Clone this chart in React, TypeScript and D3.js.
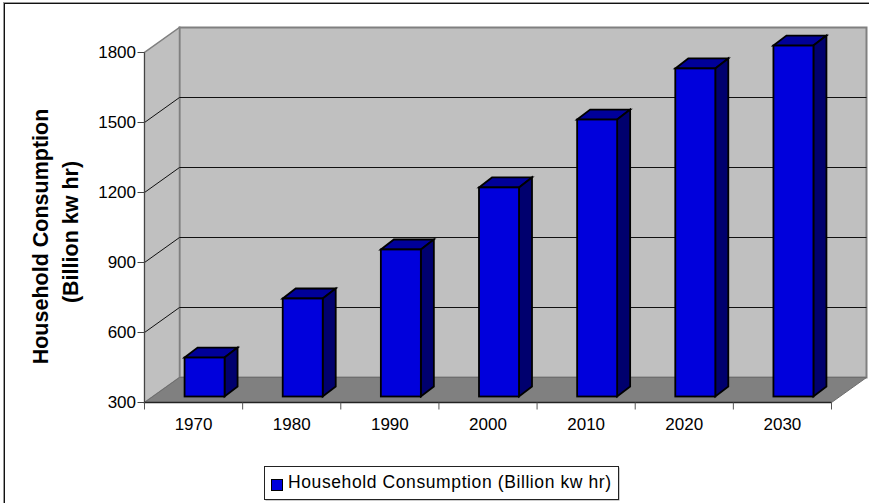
import React from "react";
import * as d3 from "d3";

const categories = ["1970", "1980", "1990", "2000", "2010", "2020", "2030"];
const values = [467, 720, 930, 1196, 1487, 1706, 1804];
const yTicks = [300, 600, 900, 1200, 1500, 1800];
const seriesName = "Household Consumption (Billion kw hr)";

const W = 869, H = 503;
const FRONT_L = 144.5, FRONT_R = 831.5, FLOOR_Y = 402.5, TOP_Y = 52.5;
const DX = 35, DY = 25;
const BAR_W = 40, BAR_DX = 13, BAR_DY = 10, BAR_OX = 11, BAR_OY = 6;
const FONT = "Liberation Sans, Arial, sans-serif";

export default function App() {
  const x = d3.scaleBand<string>().domain(categories).range([FRONT_L, FRONT_R]);
  const y = d3.scaleLinear().domain([300, 1800]).range([FLOOR_Y, TOP_Y]);
  const poly = (pts: number[][]) => pts.map((p) => p.join(",")).join(" ");
  const tickXs = [...categories.map((c) => x(c)!), FRONT_R];
  return (
    <svg width={W} height={H} viewBox={`0 0 ${W} ${H}`} style={{ position: "absolute", left: 0, top: 0, background: "#fff" }} fontFamily={FONT}>
      <rect x={3.5} y={2.5} width={W + 10} height={H + 10} fill="none" stroke="#999" strokeWidth={1} />
      <rect x={4.5} y={3.5} width={W + 10} height={H + 10} fill="#fff" stroke="#111" strokeWidth={1} />
      {/* back wall */}
      <rect x={FRONT_L + DX} y={TOP_Y - DY} width={FRONT_R - FRONT_L} height={FLOOR_Y - TOP_Y} fill="#c0c0c0" stroke="#808080" strokeWidth={2} />
      {/* side wall */}
      <polygon points={poly([[FRONT_L, FLOOR_Y], [FRONT_L, TOP_Y], [FRONT_L + DX, TOP_Y - DY], [FRONT_L + DX, FLOOR_Y - DY]])} fill="#c0c0c0" stroke="#808080" strokeWidth={1.5} />
      {/* floor */}
      <polygon points={poly([[FRONT_L, FLOOR_Y], [FRONT_L + DX, FLOOR_Y - DY], [FRONT_R + DX, FLOOR_Y - DY], [FRONT_R, FLOOR_Y]])} fill="#808080" stroke="#6e6e6e" strokeWidth={1} />
      {/* gridlines */}
      {yTicks.slice(1, -1).map((t) => (
        <polyline key={t} points={poly([[FRONT_L, y(t)], [FRONT_L + DX, y(t) - DY], [FRONT_R + DX, y(t) - DY]])} fill="none" stroke="#111" strokeWidth={1} />
      ))}
      {/* bars */}
      {categories.map((c, i) => {
        const l = x(c)! + (x.bandwidth() - BAR_W) / 2 + BAR_OX;
        const r = l + BAR_W;
        const b = FLOOR_Y - BAR_OY;
        const t = y(values[i]) - BAR_OY;
        return (
          <g key={c} stroke="#000" strokeWidth={1.8} strokeLinejoin="miter">
            <polygon points={poly([[l, t], [l + BAR_DX, t - BAR_DY], [r + BAR_DX, t - BAR_DY], [r, t]])} fill="#000099" />
            <polygon points={poly([[r, t], [r + BAR_DX, t - BAR_DY], [r + BAR_DX, b - BAR_DY], [r, b]])} fill="#00006e" />
            <rect x={l} y={t} width={BAR_W} height={b - t} fill="#0000dc" />
          </g>
        );
      })}
      {/* axes */}
      <line x1={FRONT_L} x2={FRONT_L} y1={TOP_Y} y2={FLOOR_Y} stroke="#444" strokeWidth={1} />
      <line x1={FRONT_L} x2={FRONT_R} y1={FLOOR_Y} y2={FLOOR_Y} stroke="#222" strokeWidth={1.3} />
      {yTicks.map((t) => (
        <g key={t}>
          <line x1={FRONT_L - 7} x2={FRONT_L} y1={y(t)} y2={y(t)} stroke="#444" />
          <text x={136} y={y(t) - 1} dy="0.36em" textAnchor="end" fontSize={17} fill="#000">{t}</text>
        </g>
      ))}
      {tickXs.map((tx) => (
        <line key={tx} x1={tx} x2={tx} y1={FLOOR_Y} y2={FLOOR_Y + 7} stroke="#555" />
      ))}
      {categories.map((c) => (
        <text key={c} x={x(c)! + x.bandwidth() / 2} y={429.5} textAnchor="middle" fontSize={17} fill="#000">{c}</text>
      ))}
      {/* y title */}
      <g transform="translate(48,236.5) rotate(-90)" fontSize={21.5} fontWeight="bold" textAnchor="middle" fill="#000">
        <text x={0} y={0}>Household Consumption</text>
        <text x={4.5} y={30}>(Billion kw hr)</text>
      </g>
      {/* legend */}
      <rect x={265.5} y={467.5} width={354} height={33} fill="#999" stroke="none" />
      <rect x={264.5} y={466.5} width={354} height={33} fill="#fff" stroke="#222" />
      <rect x={271.5} y={479.5} width={11} height={11} fill="#0000dc" stroke="#000" />
      <text x={288} y={488} fontSize={17.5} letterSpacing={0.6} fill="#000">{seriesName}</text>
    </svg>
  );
}
